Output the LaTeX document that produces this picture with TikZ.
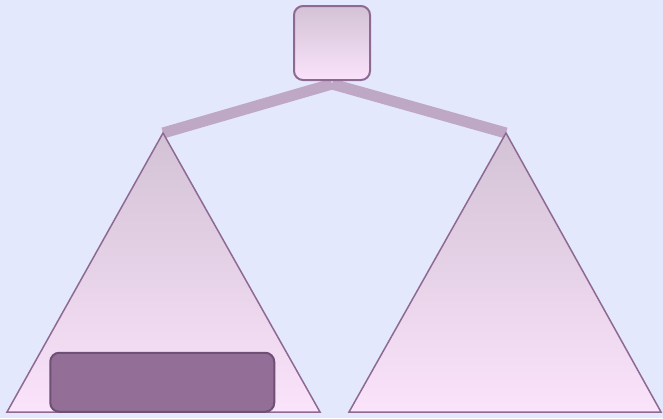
\documentclass[tikz,border=0pt]{standalone}
\usetikzlibrary{calc}
\definecolor{bgc}{HTML}{E4E8FC}
\definecolor{shtop}{HTML}{D3C2D5}
\definecolor{shbot}{HTML}{FAE3FB}
\definecolor{edgec}{HTML}{8E6A93}
\definecolor{barc}{HTML}{BFA8C5}
\definecolor{boxfill}{HTML}{936F98}
\definecolor{boxedge}{HTML}{6E5074}
\tikzset{
  treetri/.style={top color=shtop, bottom color=shbot, draw=edgec, line width=1.5pt, line join=miter},
  rootbox/.style={rectangle, rounded corners=9pt, top color=shtop, bottom color=shbot, draw=edgec, line width=2pt, minimum width=76pt, minimum height=74pt, inner sep=0pt},
  barline/.style={draw=barc, line width=11pt},
  leafbox/.style={rectangle, rounded corners=9pt, fill=boxfill, draw=boxedge, line width=2pt, inner sep=0pt}
}
\begin{document}
\begin{tikzpicture}[x=1pt,y=-1pt]
\fill[bgc] (0,0) rectangle (663,418);
\useasboundingbox (0,0) rectangle (663,418);
\coordinate (joint) at (332,84);
\coordinate (lapex) at (163,133);
\coordinate (lbl) at (7,412);
\coordinate (lbr) at (320,412);
\coordinate (rapex) at (506,133);
\coordinate (rbl) at (349,412);
\coordinate (rbr) at (661,412);
\draw[barline] (joint) -- (lapex);
\draw[barline] (joint) -- (rapex);
\shadedraw[treetri] (lapex) -- (lbr) -- (lbl) -- cycle;
\shadedraw[treetri] (rapex) -- (rbr) -- (rbl) -- cycle;
\node[rootbox] (root) at (332,43) {};
\node[leafbox, minimum width=224pt, minimum height=59pt] (leaf) at (162.25,382.25) {};
\end{tikzpicture}
\end{document}
